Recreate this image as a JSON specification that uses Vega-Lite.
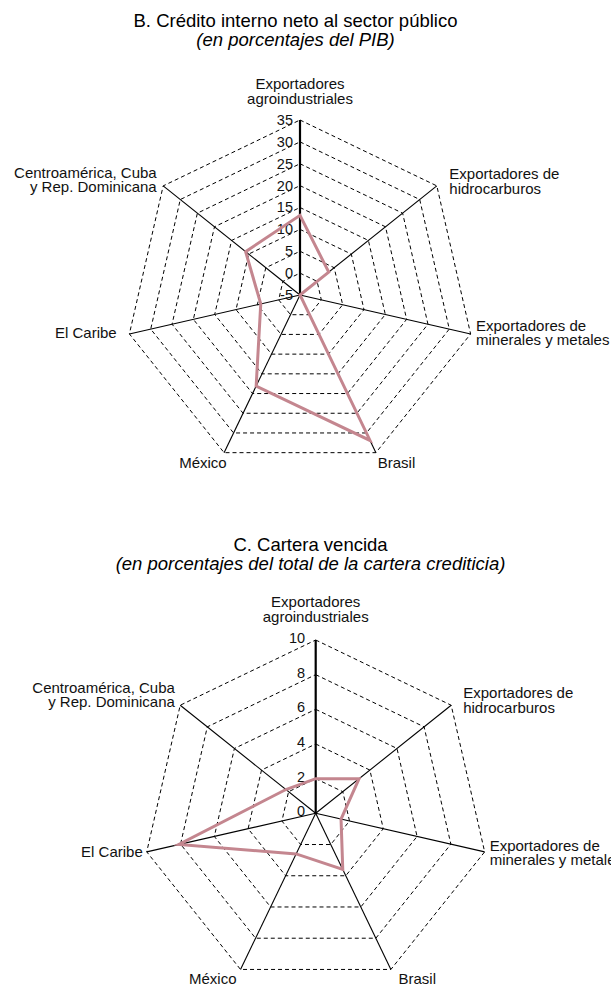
{
  "$schema": "https://vega.github.io/schema/vega-lite/v6.json",
  "autosize": {"type": "pad"},
  "padding": {"top": 11, "left": 0, "right": 0, "bottom": 0},
  "bounds": "flush",
  "spacing": 110,
  "config": {
    "font": "Liberation Sans",
    "view": {"stroke": null},
    "title": {
      "font": "Liberation Sans", "fontSize": 18.5, "fontWeight": "normal", "color": "#000",
      "subtitleFont": "Liberation Sans", "subtitleFontSize": 18.5, "subtitleFontStyle": "italic",
      "subtitleColor": "#000", "anchor": "middle", "subtitlePadding": 0.5, "frame": "group"
    },
    "text": {"font": "Liberation Sans", "color": "#111"}
  },
  "datasets": {
    "B": [
      {"k": 0, "label": "Exportadores\nagroindustriales", "value": 13.2},
      {"k": 1, "label": "Exportadores de\nhidrocarburos", "value": 3.4},
      {"k": 2, "label": "Exportadores de\nminerales y metales", "value": -5},
      {"k": 3, "label": "Brasil", "value": 31.9},
      {"k": 4, "label": "México", "value": 18.1},
      {"k": 5, "label": "El Caribe", "value": 4.2},
      {"k": 6, "label": "Centroamérica, Cuba\ny Rep. Dominicana", "value": 10.9}
    ],
    "C": [
      {"k": 0, "label": "Exportadores\nagroindustriales", "value": 2.0},
      {"k": 1, "label": "Exportadores de\nhidrocarburos", "value": 3.2},
      {"k": 2, "label": "Exportadores de\nminerales y metales", "value": 1.5},
      {"k": 3, "label": "Brasil", "value": 3.6},
      {"k": 4, "label": "México", "value": 2.6},
      {"k": 5, "label": "El Caribe", "value": 8.1},
      {"k": 6, "label": "Centroamérica, Cuba\ny Rep. Dominicana", "value": 2.2}
    ],
    "ringsB": [
      {"ring": 0, "k": [0, 1, 2, 3, 4, 5, 6]},
      {"ring": 5, "k": [0, 1, 2, 3, 4, 5, 6]},
      {"ring": 10, "k": [0, 1, 2, 3, 4, 5, 6]},
      {"ring": 15, "k": [0, 1, 2, 3, 4, 5, 6]},
      {"ring": 20, "k": [0, 1, 2, 3, 4, 5, 6]},
      {"ring": 25, "k": [0, 1, 2, 3, 4, 5, 6]},
      {"ring": 30, "k": [0, 1, 2, 3, 4, 5, 6]},
      {"ring": 35, "k": [0, 1, 2, 3, 4, 5, 6]}
    ],
    "ringsC": [
      {"ring": 2, "k": [0, 1, 2, 3, 4, 5, 6]},
      {"ring": 4, "k": [0, 1, 2, 3, 4, 5, 6]},
      {"ring": 6, "k": [0, 1, 2, 3, 4, 5, 6]},
      {"ring": 8, "k": [0, 1, 2, 3, 4, 5, 6]},
      {"ring": 10, "k": [0, 1, 2, 3, 4, 5, 6]}
    ],
    "ticksB": [{"v": -5}, {"v": 0}, {"v": 5}, {"v": 10}, {"v": 15}, {"v": 20}, {"v": 25}, {"v": 30}, {"v": 35}],
    "ticksC": [{"v": 0}, {"v": 2}, {"v": 4}, {"v": 6}, {"v": 8}, {"v": 10}]
  },
  "vconcat": [
    {
      "width": 611,
      "height": 420,
      "title": {"text": "B. Crédito interno neto al sector público", "subtitle": "(en porcentajes del PIB)", "dx": -10, "offset": 11},
      "encoding": {
        "x": {"field": "px", "type": "quantitative", "scale": {"domain": [-1.714286, 1.777143], "nice": false, "zero": false}, "axis": null},
        "y": {"field": "py", "type": "quantitative", "scale": {"domain": [-1.057143, 1.342857], "nice": false, "zero": false}, "axis": null}
      },
      "layer": [
        {
          "data": {"name": "ringsB"},
          "transform": [
            {"flatten": ["k"]},
            {"calculate": "(datum.ring + 5) / 40", "as": "r"},
            {"calculate": "datum.r * sin(2 * PI * datum.k / 7)", "as": "px"},
            {"calculate": "datum.r * cos(2 * PI * datum.k / 7)", "as": "py"}
          ],
          "mark": {"type": "line", "interpolate": "linear-closed", "color": "#000", "strokeWidth": 1, "strokeDash": [4, 3]},
          "encoding": {"detail": {"field": "ring", "type": "nominal"}, "order": {"field": "k", "type": "quantitative"}}
        },
        {
          "data": {"name": "B"},
          "transform": [
            {"calculate": "sin(2 * PI * datum.k / 7)", "as": "px"},
            {"calculate": "cos(2 * PI * datum.k / 7)", "as": "py"}
          ],
          "mark": {"type": "rule", "color": "#000"},
          "encoding": {
            "x2": {"datum": 0}, "y2": {"datum": 0},
            "strokeWidth": {"condition": {"test": "datum.k == 0", "value": 2.2}, "value": 1.1}
          }
        },
        {
          "data": {"name": "ticksB"},
          "transform": [
            {"calculate": "(datum.v + 5) / 40", "as": "py"},
            {"calculate": "0", "as": "px"}
          ],
          "mark": {"type": "text", "align": "right", "baseline": "middle", "dx": -7, "dy": 1, "fontSize": 14.5},
          "encoding": {"text": {"field": "v", "type": "nominal"}}
        },
        {
          "data": {"name": "B"},
          "transform": [
            {"calculate": "(datum.value + 5) / 40", "as": "r"},
            {"calculate": "datum.r * sin(2 * PI * datum.k / 7)", "as": "px"},
            {"calculate": "datum.r * cos(2 * PI * datum.k / 7)", "as": "py"}
          ],
          "mark": {"type": "line", "interpolate": "linear-closed", "color": "#c4868f", "strokeWidth": 3},
          "encoding": {"order": {"field": "k", "type": "quantitative"}}
        },
        {
          "data": {"name": "B"},
          "transform": [
            {"calculate": "sin(2 * PI * datum.k / 7)", "as": "px"},
            {"calculate": "cos(2 * PI * datum.k / 7)", "as": "py"}
          ],
          "layer": [
            {"transform": [{"filter": "datum.k == 0"}], "mark": {"type": "text", "align": "center", "baseline": "alphabetic", "dx": 0, "dy": -30.5, "fontSize": 15, "lineHeight": 14.5, "lineBreak": "\n"}, "encoding": {"text": {"field": "label", "type": "nominal"}}},
            {"transform": [{"filter": "datum.k == 1"}], "mark": {"type": "text", "align": "left", "baseline": "alphabetic", "dx": 12.5, "dy": -6.6, "fontSize": 15, "lineHeight": 14.5, "lineBreak": "\n"}, "encoding": {"text": {"field": "label", "type": "nominal"}}},
            {"transform": [{"filter": "datum.k == 2"}], "mark": {"type": "text", "align": "left", "baseline": "alphabetic", "dx": 5.4, "dy": -3, "fontSize": 15, "lineHeight": 14.5, "lineBreak": "\n"}, "encoding": {"text": {"field": "label", "type": "nominal"}}},
            {"transform": [{"filter": "datum.k == 3"}], "mark": {"type": "text", "align": "left", "baseline": "alphabetic", "dx": 1.8, "dy": 15.6, "fontSize": 15, "lineHeight": 14.5, "lineBreak": "\n"}, "encoding": {"text": {"field": "label", "type": "nominal"}}},
            {"transform": [{"filter": "datum.k == 4"}], "mark": {"type": "text", "align": "right", "baseline": "alphabetic", "dx": 2.6, "dy": 15.6, "fontSize": 15, "lineHeight": 14.5, "lineBreak": "\n"}, "encoding": {"text": {"field": "label", "type": "nominal"}}},
            {"transform": [{"filter": "datum.k == 5"}], "mark": {"type": "text", "align": "right", "baseline": "alphabetic", "dx": -12.7, "dy": 4.4, "fontSize": 15, "lineHeight": 14.5, "lineBreak": "\n"}, "encoding": {"text": {"field": "label", "type": "nominal"}}},
            {"transform": [{"filter": "datum.k == 6"}], "mark": {"type": "text", "align": "right", "baseline": "alphabetic", "dx": -6.5, "dy": -8.2, "fontSize": 15, "lineHeight": 14.5, "lineBreak": "\n"}, "encoding": {"text": {"field": "label", "type": "nominal"}}}
          ]
        }
      ]
    },
    {
      "width": 611,
      "height": 401,
      "title": {"text": "C. Cartera vencida", "subtitle": "(en porcentajes del total de la cartera crediticia)", "dx": 5, "offset": 17},
      "encoding": {
        "x": {"field": "px", "type": "quantitative", "scale": {"domain": [-1.821696, 1.703982], "nice": false, "zero": false}, "axis": null},
        "y": {"field": "py", "type": "quantitative", "scale": {"domain": [-1.025389, 1.288517], "nice": false, "zero": false}, "axis": null}
      },
      "layer": [
        {
          "data": {"name": "ringsC"},
          "transform": [
            {"flatten": ["k"]},
            {"calculate": "datum.ring / 10", "as": "r"},
            {"calculate": "datum.r * sin(2 * PI * datum.k / 7)", "as": "px"},
            {"calculate": "datum.r * cos(2 * PI * datum.k / 7)", "as": "py"}
          ],
          "mark": {"type": "line", "interpolate": "linear-closed", "color": "#000", "strokeWidth": 1, "strokeDash": [4, 3]},
          "encoding": {"detail": {"field": "ring", "type": "nominal"}, "order": {"field": "k", "type": "quantitative"}}
        },
        {
          "data": {"name": "C"},
          "transform": [
            {"calculate": "sin(2 * PI * datum.k / 7)", "as": "px"},
            {"calculate": "cos(2 * PI * datum.k / 7)", "as": "py"}
          ],
          "mark": {"type": "rule", "color": "#000"},
          "encoding": {
            "x2": {"datum": 0}, "y2": {"datum": 0},
            "strokeWidth": {"condition": {"test": "datum.k == 0", "value": 2.2}, "value": 1.1}
          }
        },
        {
          "data": {"name": "ticksC"},
          "transform": [
            {"calculate": "datum.v / 10", "as": "py"},
            {"calculate": "0", "as": "px"}
          ],
          "mark": {"type": "text", "align": "right", "baseline": "middle", "dx": -10.5, "dy": -1, "fontSize": 14.5},
          "encoding": {"text": {"field": "v", "type": "nominal"}}
        },
        {
          "data": {"name": "C"},
          "transform": [
            {"calculate": "datum.value / 10", "as": "r"},
            {"calculate": "datum.r * sin(2 * PI * datum.k / 7)", "as": "px"},
            {"calculate": "datum.r * cos(2 * PI * datum.k / 7)", "as": "py"}
          ],
          "mark": {"type": "line", "interpolate": "linear-closed", "color": "#c4868f", "strokeWidth": 3},
          "encoding": {"order": {"field": "k", "type": "quantitative"}}
        },
        {
          "data": {"name": "C"},
          "transform": [
            {"calculate": "sin(2 * PI * datum.k / 7)", "as": "px"},
            {"calculate": "cos(2 * PI * datum.k / 7)", "as": "py"}
          ],
          "layer": [
            {"transform": [{"filter": "datum.k == 0"}], "mark": {"type": "text", "align": "center", "baseline": "alphabetic", "dx": 0, "dy": -33, "fontSize": 15, "lineHeight": 14.5, "lineBreak": "\n"}, "encoding": {"text": {"field": "label", "type": "nominal"}}},
            {"transform": [{"filter": "datum.k == 1"}], "mark": {"type": "text", "align": "left", "baseline": "alphabetic", "dx": 12, "dy": -7, "fontSize": 15, "lineHeight": 14.5, "lineBreak": "\n"}, "encoding": {"text": {"field": "label", "type": "nominal"}}},
            {"transform": [{"filter": "datum.k == 2"}], "mark": {"type": "text", "align": "left", "baseline": "alphabetic", "dx": 5, "dy": -1, "fontSize": 15, "lineHeight": 14.5, "lineBreak": "\n"}, "encoding": {"text": {"field": "label", "type": "nominal"}}},
            {"transform": [{"filter": "datum.k == 3"}], "mark": {"type": "text", "align": "left", "baseline": "alphabetic", "dx": 7.6, "dy": 15, "fontSize": 15, "lineHeight": 14.5, "lineBreak": "\n"}, "encoding": {"text": {"field": "label", "type": "nominal"}}},
            {"transform": [{"filter": "datum.k == 4"}], "mark": {"type": "text", "align": "right", "baseline": "alphabetic", "dx": -4, "dy": 15, "fontSize": 15, "lineHeight": 14.5, "lineBreak": "\n"}, "encoding": {"text": {"field": "label", "type": "nominal"}}},
            {"transform": [{"filter": "datum.k == 5"}], "mark": {"type": "text", "align": "right", "baseline": "alphabetic", "dx": -4, "dy": 5, "fontSize": 15, "lineHeight": 14.5, "lineBreak": "\n"}, "encoding": {"text": {"field": "label", "type": "nominal"}}},
            {"transform": [{"filter": "datum.k == 6"}], "mark": {"type": "text", "align": "right", "baseline": "alphabetic", "dx": -5.3, "dy": -12.7, "fontSize": 15, "lineHeight": 14.5, "lineBreak": "\n"}, "encoding": {"text": {"field": "label", "type": "nominal"}}}
          ]
        }
      ]
    }
  ]
}
